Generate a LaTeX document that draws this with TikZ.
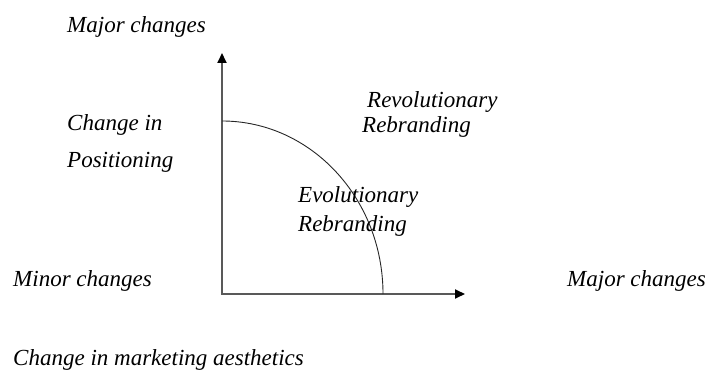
\documentclass[tikz,border=0pt]{standalone}
\usepackage{fontspec}
\setmainfont{Liberation Serif}
\usetikzlibrary{positioning}
\usetikzlibrary{arrows.meta}

\begin{document}
\begin{tikzpicture}[x=1pt,y=1pt]

\tikzstyle{lbl}=[anchor=base west, inner sep=0pt, font=\fontsize{23}{27}\selectfont\itshape]
\tikzstyle{axes}=[line width=1.8pt, draw=black!65, {Triangle[length=10pt,width=9pt,color=black]}-{Triangle[length=10pt,width=9pt,color=black]}]

\useasboundingbox (0,0) rectangle (708,369);

\coordinate (Ytop) at (222,316);
\coordinate (O) at (222,75);
\coordinate (Xend) at (465,75);
\draw[axes] (Ytop) -- (O) -- (Xend);

\coordinate (Atop) at (222,248);
\draw[line width=0.9pt, black!85] (Atop) arc[start angle=90, end angle=0, x radius=161, y radius=173];

\node[lbl] at (67,336)   (MajorV) {Major changes};
\node[lbl] at (67,238)   (ChgIn) {Change in};
\node[lbl] at (67,201)   (Pos) {Positioning};

\node[lbl] at (367,261)  (Revo) {Revolutionary};
\node[lbl] at (362,236)  (RevoReb) {Rebranding};
\node[lbl] at (298,166)  (Evo) {Evolutionary};
\node[lbl] at (298,137)  (EvoReb) {Rebranding};

\node[lbl] at (13,82)    (Minor) {Minor changes};
\node[lbl] at (567,82)   (MajorH) {Major changes};
\node[lbl] at (13,4)     (Aesth) {Change in marketing aesthetics};

\end{tikzpicture}
\end{document}
